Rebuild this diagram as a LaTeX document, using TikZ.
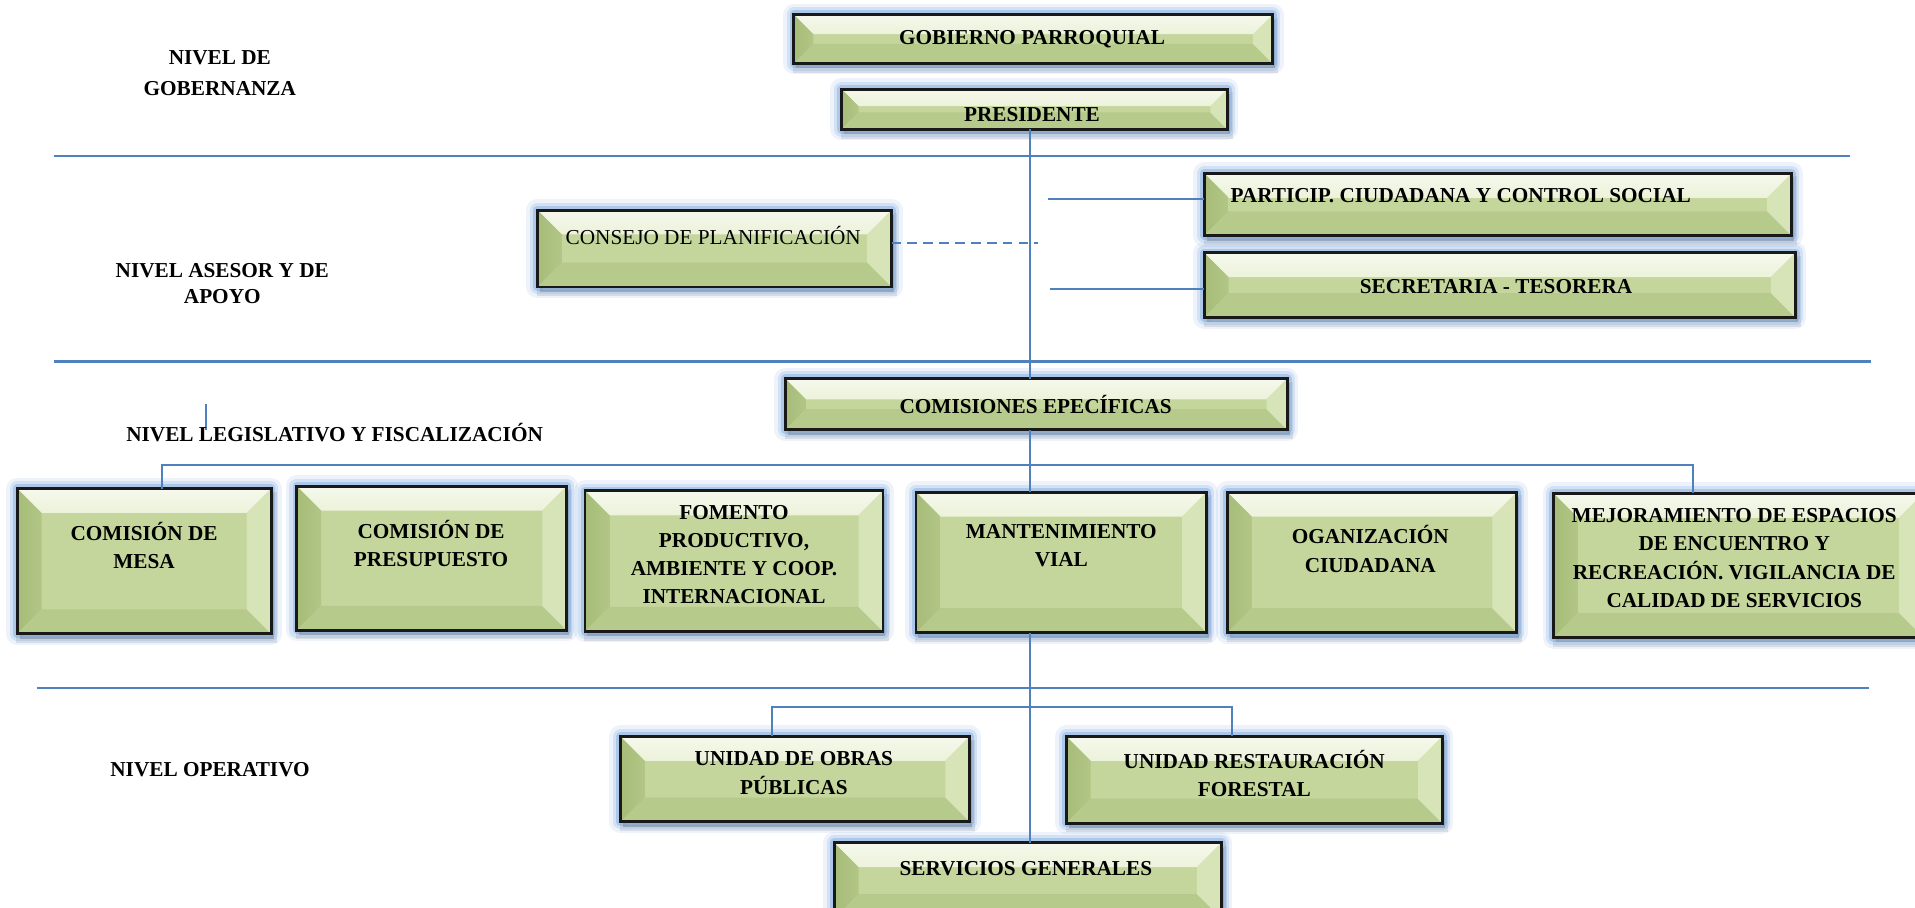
\documentclass[tikz,border=0pt]{standalone}
\usepackage{fontspec}
\setmainfont{Liberation Serif}

\definecolor{boxface}{RGB}{196,214,155}
\definecolor{boxtop}{RGB}{236,242,218}
\definecolor{boxleft}{RGB}{166,188,120}
\definecolor{boxbottom}{RGB}{181,202,139}
\definecolor{boxright}{RGB}{214,228,184}
\definecolor{boxline}{RGB}{25,25,25}
\definecolor{linkblue}{RGB}{79,129,189}
\definecolor{glowblue}{RGB}{112,160,220}

\newcommand{\orgfont}{\fontsize{17.4}{23}\selectfont}

\tikzset{
  bev/.store in=\bevinset, bev=20pt,
  orgbox/.style={draw=boxline, line width=2.4pt, fill=boxface, inner sep=0pt, outer sep=0pt,
    preaction={fill=black, opacity=0.25, transform canvas={xshift=2pt,yshift=-4pt}},
    preaction={draw=black, line width=5pt, opacity=0.10, transform canvas={xshift=2pt,yshift=-5pt}},
    preaction={draw=glowblue, line width=18pt, opacity=0.12, line join=round},
    preaction={draw=glowblue, line width=12pt, opacity=0.22, line join=round},
    preaction={draw=glowblue, line width=7pt, opacity=0.40, line join=round},
    path picture={
      \path (path picture bounding box.north west) coordinate (bv-a)
            (path picture bounding box.north east) coordinate (bv-b)
            (path picture bounding box.south east) coordinate (bv-c)
            (path picture bounding box.south west) coordinate (bv-d)
            ([shift={(\bevinset,-\bevinset)}]bv-a) coordinate (bv-ia)
            ([shift={(-\bevinset,-\bevinset)}]bv-b) coordinate (bv-ib)
            ([shift={(-\bevinset,\bevinset)}]bv-c) coordinate (bv-ic)
            ([shift={(\bevinset,\bevinset)}]bv-d) coordinate (bv-id);
      \shade[top color=boxtop!50!white, bottom color=boxtop] (bv-a) -- (bv-b) -- (bv-ib) -- (bv-ia) -- cycle;
      \shade[left color=boxleft, right color=boxleft!60!boxface] (bv-a) -- (bv-ia) -- (bv-id) -- (bv-d) -- cycle;
      \fill[boxbottom] (bv-d) -- (bv-id) -- (bv-ic) -- (bv-c) -- cycle;
      \fill[boxright] (bv-b) -- (bv-c) -- (bv-ic) -- (bv-ib) -- cycle;
    }},
  boxtext/.style={font=\orgfont\bfseries, align=center, inner sep=0pt},
  nivel/.style={font=\orgfont\bfseries, align=center, inner sep=0pt},
  conn/.style={draw=linkblue, line width=1.7pt},
}

\begin{document}
\begin{tikzpicture}[x=1pt, y=-1pt]
  \useasboundingbox (0,0) rectangle (1568,743);

  % separators between levels
  \draw[conn] (44,128) -- (1515,128);
  \draw[conn] (44,296) -- (1532,296);
  \draw[conn] (30,563) -- (1530,563);
  \draw[conn] (169,331) -- (169,352);

  % level names
  \node[nivel] (nivel-gob) at (180,60) {NIVEL DE\\[2pt]GOBERNANZA};
  \node[nivel] (nivel-ase) at (182,232) {NIVEL ASESOR Y DE\\[-2pt]APOYO};
  \node[nivel] (nivel-leg) at (274,354) {NIVEL LEGISLATIVO Y FISCALIZACIÓN};
  \node[nivel] (nivel-ope) at (172,630) {NIVEL OPERATIVO};

  % governance
  \node[orgbox, bev=16pt, minimum width=392, minimum height=40] (gob) at (846,32) {};
  \node[boxtext] (gob-t) at (845,32) {GOBIERNO PARROQUIAL};
  \node[orgbox, bev=14pt, minimum width=316, minimum height=33] (pres) at (847,89.5) {};
  \node[boxtext] (pres-t) at (845,94) {PRESIDENTE};

  % advisory and support
  \node[orgbox, minimum width=290, minimum height=63] (consejo) at (585,203.5) {};
  \node[boxtext, font=\orgfont] (consejo-t) at (584,193) {CONSEJO DE PLANIFICACIÓN};
  \node[orgbox, minimum width=481, minimum height=51] (particip) at (1226.5,167.5) {};
  \node[boxtext] (particip-t) at (1196,160) {PARTICIP. CIUDADANA Y CONTROL SOCIAL};
  \node[orgbox, minimum width=484, minimum height=53] (secre) at (1228,233.5) {};
  \node[boxtext] (secre-t) at (1225,235) {SECRETARIA - TESORERA};

  % legislative
  \node[orgbox, bev=17pt, minimum width=411, minimum height=42] (comis) at (848.5,331) {};
  \node[boxtext] (comis-t) at (848,331) {COMISIONES EPECÍFICAS};
  \node[orgbox, minimum width=208, minimum height=119] (mesa) at (118,459.5) {};
  \node[boxtext] (mesa-t) at (118,447) {COMISIÓN DE\\MESA};
  \node[orgbox, minimum width=221, minimum height=118] (presu) at (353.5,457) {};
  \node[boxtext] (presu-t) at (353,445) {COMISIÓN DE\\PRESUPUESTO};
  \node[orgbox, minimum width=244, minimum height=115] (fomento) at (601,459.5) {};
  \node[boxtext] (fomento-t) at (601,454) {FOMENTO\\PRODUCTIVO,\\AMBIENTE Y COOP.\\INTERNACIONAL};
  \node[orgbox, minimum width=238, minimum height=115] (mant) at (869,460.5) {};
  \node[boxtext] (mant-t) at (869,447) {MANTENIMIENTO\\VIAL};
  \node[orgbox, minimum width=237, minimum height=115] (ogan) at (1123.5,460.5) {};
  \node[boxtext] (ogan-t) at (1122,449.5) {OGANIZACIÓN\\CIUDADANA};
  \node[orgbox, minimum width=303, minimum height=118] (mejora) at (1423.5,463) {};
  \node[boxtext] (mejora-t) at (1420,457) {MEJORAMIENTO DE ESPACIOS\\DE ENCUENTRO Y\\RECREACIÓN. VIGILANCIA DE\\CALIDAD DE SERVICIOS};

  % operative
  \node[orgbox, minimum width=286, minimum height=70] (obras) at (651,638) {};
  \node[boxtext] (obras-t) at (650,633) {UNIDAD DE OBRAS\\PÚBLICAS};
  \node[orgbox, minimum width=308, minimum height=71] (restaur) at (1027,638.5) {};
  \node[boxtext] (restaur-t) at (1027,633) {UNIDAD RESTAURACIÓN\\FORESTAL};
  \node[orgbox, minimum width=317, minimum height=62] (serv) at (841.5,721) {};
  \node[boxtext] (serv-t) at (840,711) {SERVICIOS GENERALES};

  % connectors
  \coordinate (spine) at (843,0);
  \draw[conn] (pres.south -| spine) -- (comis.north -| spine);
  \draw[conn] (comis.south -| spine) -- (mant.north -| spine);
  \draw[conn] (mant.south -| spine) -- (serv.north -| spine);

  \coordinate (consejo-end) at (850,199);
  \draw[conn, dash pattern=on 8pt off 5pt] (consejo.east |- consejo-end) -- (consejo-end);
  \coordinate (particip-in) at (858,163);
  \draw[conn] (particip-in) -- (particip-in -| particip.west);
  \coordinate (secre-in) at (860,237);
  \draw[conn] (secre-in) -- (secre-in -| secre.west);

  \coordinate (fork-l) at (133,381);
  \coordinate (fork-r) at (1386,381);
  \draw[conn] (mesa.north -| fork-l) -- (fork-l) -- (fork-r) -- (mejora.north -| fork-r);

  \coordinate (fork2-l) at (632,579);
  \coordinate (fork2-r) at (1009,579);
  \draw[conn] (obras.north -| fork2-l) -- (fork2-l) -- (fork2-r) -- (restaur.north -| fork2-r);
\end{tikzpicture}
\end{document}
